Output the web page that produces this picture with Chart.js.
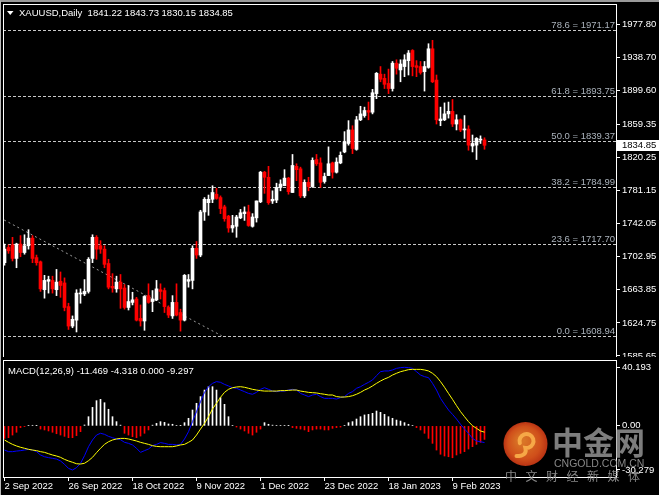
<!DOCTYPE html>
<html>
<head>
<meta charset="utf-8">
<title>XAUUSD Daily</title>
<script src="https://cdn.jsdelivr.net/npm/chart.js@4.4.1/dist/chart.umd.min.js"></script>
<style>
  html, body { margin: 0; padding: 0; background: #000; }
  #wrap { position: relative; width: 659px; height: 495px; overflow: hidden; background: #000; }
  #price { position: absolute; left: 0; top: 0; }
  #macd { position: absolute; left: 0; top: 357px; }
  #edge { position: absolute; left: 0; top: 0; width: 658px; height: 494px;
          border-top: 2px solid #9a9a9a; border-left: 1px solid #b8b8b8; pointer-events: none; }
</style>
</head>
<body>
<div id="wrap">
  <canvas id="price" width="659" height="357"></canvas>
  <canvas id="macd" width="659" height="138"></canvas>
  <div id="edge"></div>
</div>
<script>
const FONT = "'Liberation Sans', Arial, sans-serif";
Chart.defaults.font.family = FONT;
Chart.defaults.font.size = 9.5;
Chart.defaults.color = "#ffffff";

const symbol = "XAUUSD,Daily";
const dateLabels = ["2 Sep 2022", "26 Sep 2022", "18 Oct 2022", "9 Nov 2022", "1 Dec 2022", "23 Dec 2022", "18 Jan 2023", "9 Feb 2023"];
const dateIdx = [0, 16, 32, 48, 64, 80, 96, 112];

// daily candles, 2 Sep 2022 .. 21 Feb 2023
const open = [
  1696,1714,1717,1701,1718,1708,1716,1725,1702,1697,
  1664,1674,1675,1664,1674,1672,1644,1621,1628,1659,
  1659,1662,1701,1726,1716,1712,1695,1668,1665,1673,
  1666,1643,1649,1653,1630,1627,1657,1650,1652,1664,
  1663,1643,1633,1649,1637,1628,1674,1675,1713,1705,
  1756,1767,1771,1777,1773,1762,1751,1737,1739,1749,
  1754,1756,1739,1749,1768,1803,1797,1769,1770,1785,
  1787,1796,1779,1810,1807,1775,1791,1786,1818,1814,
  1792,1799,1814,1803,1814,1827,1837,1853,1830,1865,
  1870,1876,1874,1896,1919,1914,1908,1902,1932,1924,
  1928,1935,1947,1929,1928,1922,1927,1949,1912,1864,
  1865,1872,1875,1860,1865,1853,1854,1834,1835,1841,
  1841.22];
const high = [
  1718,1717,1726,1719,1728,1729,1735,1728,1705,1698,
  1681,1680,1680,1688,1685,1678,1648,1633,1664,1665,
  1676,1702,1729,1728,1722,1716,1700,1683,1680,1682,
  1670,1669,1661,1655,1646,1657,1671,1663,1675,1671,
  1666,1645,1657,1671,1641,1682,1682,1716,1721,1758,
  1773,1776,1787,1784,1775,1764,1752,1752,1752,1759,
  1762,1764,1754,1769,1804,1804,1810,1781,1790,1794,
  1806,1797,1824,1813,1809,1794,1797,1820,1824,1820,
  1802,1833,1815,1820,1827,1851,1864,1858,1869,1881,
  1880,1886,1901,1921,1928,1919,1925,1934,1936,1936,
  1942,1947,1948,1935,1934,1934,1955,1959,1918,1880,
  1885,1886,1889,1871,1866,1870,1858,1847,1844,1846,
  1843.73];
const low = [
  1693,1707,1698,1690,1703,1706,1712,1696,1693,1662,
  1654,1660,1660,1657,1655,1639,1617,1619,1614,1648,
  1657,1660,1696,1700,1707,1690,1665,1661,1661,1642,
  1641,1640,1646,1627,1621,1616,1648,1638,1651,1653,
  1637,1631,1630,1633,1615,1627,1667,1665,1701,1703,
  1746,1752,1767,1771,1754,1745,1732,1732,1726,1748,
  1746,1739,1738,1744,1767,1778,1765,1766,1767,1781,
  1787,1777,1779,1793,1773,1773,1781,1785,1811,1785,
  1790,1799,1796,1802,1813,1826,1835,1825,1829,1864,
  1868,1865,1872,1890,1910,1902,1896,1899,1919,1910,
  1916,1918,1917,1916,1919,1899,1926,1909,1860,1858,
  1864,1867,1857,1853,1851,1843,1829,1827,1818,1837,
  1830.15];
const close = [
  1712,1710,1701,1718,1708,1716,1725,1701,1696,1665,
  1675,1676,1665,1673,1669,1643,1621,1629,1660,1660,
  1662,1700,1726,1712,1712,1694,1667,1666,1673,1665,
  1643,1650,1652,1628,1627,1656,1649,1653,1665,1662,
  1644,1634,1649,1634,1628,1681,1676,1713,1705,1756,
  1771,1771,1779,1772,1760,1748,1737,1740,1750,1755,
  1756,1740,1750,1769,1803,1797,1767,1771,1785,1789,
  1796,1780,1811,1806,1775,1791,1786,1817,1813,1791,
  1798,1813,1803,1815,1823,1839,1853,1831,1865,1872,
  1876,1874,1897,1920,1913,1907,1902,1932,1926,1931,
  1936,1944,1928,1927,1921,1928,1949,1910,1865,1866,
  1872,1875,1860,1865,1853,1854,1835,1837,1843,1842,
  1834.85];

const priceTicks = [1977.80, 1938.70, 1899.60, 1859.35, 1820.25, 1781.15, 1742.05, 1702.95, 1663.85, 1624.75, 1585.65];
const fibLevels = ["78.6", "61.8", "50.0", "38.2", "23.6", "0.0"];
const fibPrices = [1971.17, 1893.75, 1839.37, 1784.99, 1717.70, 1608.94];
// trend line end points: bar index, price
const trendIdx = [-0.1, 54.3];
const trendPrice = [1746.5, 1609.5];

const macdMain = [
  -16.6,-17.7,-17.7,-17.3,-17.0,-16.6,-16.1,-16.6,-17.7,-20.0,
  -21.2,-21.8,-22.3,-22.8,-24.1,-26.4,-29.2,-30.3,-28.7,-25.7,
  -20.5,-14.3,-9.7,-6.3,-5.1,-5.8,-7.2,-8.1,-9.0,-9.5,
  -11.3,-12.0,-13.1,-15.4,-18.2,-17.0,-15.9,-13.6,-12.7,-11.5,
  -12.0,-12.7,-12.7,-13.1,-12.7,-9.0,-4.0,2.9,9.8,16.6,
  23.0,26.9,29.2,30.4,29.9,28.5,27.4,26.2,25.8,24.6,
  23.5,22.3,21.7,23.0,25.1,26.2,25.1,23.9,23.5,23.9,
  23.9,24.6,25.1,24.6,22.3,21.2,20.1,21.2,21.7,20.1,
  18.9,18.9,18.9,18.4,19.4,20.1,22.3,23.5,25.8,26.9,
  28.5,29.9,31.5,34.5,37.2,37.7,37.7,38.4,39.5,40.0,
  40.2,40.0,39.5,37.2,34.9,33.8,33.1,29.2,24.6,18.9,
  14.8,10.9,7.9,4.7,1.1,-2.2,-5.1,-8.6,-10.4,-10.9,
  -11.469];
const macdSignal = [
  -9.7,-11.3,-12.7,-13.8,-14.7,-15.4,-16.1,-16.6,-17.0,-17.7,
  -18.2,-19.1,-20.0,-20.7,-21.6,-23.0,-24.1,-25.0,-26.0,-26.2,
  -25.7,-23.9,-21.6,-18.4,-15.4,-12.7,-10.9,-9.7,-9.0,-8.6,
  -8.6,-9.0,-9.7,-10.4,-11.3,-12.0,-12.7,-13.6,-14.1,-14.3,
  -14.3,-14.3,-14.3,-13.8,-13.1,-12.7,-11.3,-9.7,-6.3,-2.2,
  1.7,6.3,11.6,15.5,19.6,23.0,25.1,26.2,26.7,26.9,
  26.5,25.8,25.1,24.6,24.2,23.9,23.9,23.9,23.9,24.2,
  24.2,24.4,24.6,24.6,23.9,23.5,23.0,22.8,22.6,22.1,
  21.7,21.2,21.2,20.1,19.8,19.8,20.1,20.7,21.7,23.0,
  24.6,25.8,27.4,29.2,30.8,32.2,33.3,34.9,36.1,37.2,
  37.9,38.6,38.8,38.8,38.8,38.4,37.7,36.1,33.8,30.4,
  26.5,22.3,18.2,13.9,9.8,6.3,2.9,0.1,-1.7,-3.5,
  -4.318];
const macdHist = [
  -8.6,-8.1,-6.3,-4.4,-1.2,-0.5,0.3,0.4,0.2,-2.2,
  -2.8,-3.5,-4.4,-5.4,-6.3,-7.2,-8.1,-8.1,-6.7,-4.0,
  0.6,6.3,12.7,17.3,18.2,15.9,11.4,6.3,2.9,0.5,
  -5.1,-6.3,-7.4,-8.1,-7.0,-5.1,-2.8,0.5,1.7,2.9,
  2.4,1.3,1.1,0.3,0.2,2.2,5.2,10.9,15.5,20.1,
  24.6,26.9,26.9,24.6,19.4,14.8,6.3,0.3,-0.8,-2.2,
  -3.5,-5.1,-6.3,-4.4,-2.2,2.2,1.1,0.5,0.3,0.3,
  0.3,0.2,-1.2,-1.7,-2.2,-2.8,-4.0,-2.8,-2.2,-2.2,
  -2.8,-2.8,-1.7,-1.2,-0.8,0.3,2.2,2.9,4.7,6.3,
  7.5,7.9,8.6,10.2,9.3,7.9,6.3,5.2,4.0,3.3,
  2.2,1.1,0.3,-1.2,-2.8,-5.1,-8.6,-12.0,-16.6,-19.5,
  -20.7,-21.2,-21.9,-20.0,-18.9,-17.7,-15.9,-14.3,-12.7,-11.3,
  -9.297];
const macdTicks = [40.193, 0, -30.279];

const n = close.length;
const bull = "#ffffff", bear = "#ff0000";
const candleColor = close.map((c, i) => (c >= open[i] ? bull : bear));

// 4 px per bar, first bar centred 1.5 px inside the frame
const xMin = -0.375, xMax = 152.875;

function frame(chart) {
  const { ctx, chartArea: a } = chart;
  ctx.save();
  ctx.strokeStyle = "#ffffff";
  ctx.lineWidth = 1;
  ctx.strokeRect(a.left + 0.5, a.top + 0.5, a.right - a.left, a.bottom - a.top);
  ctx.restore();
}

const priceDecor = {
  id: "priceDecor",
  beforeDatasetsDraw(chart) {
    const { ctx, chartArea: a, scales: { y } } = chart;
    ctx.save();
    ctx.strokeStyle = "#c8c8c8";
    ctx.lineWidth = 1;
    ctx.setLineDash([3, 2]);
    fibPrices.forEach((p) => {
      const py = Math.round(y.getPixelForValue(p)) + 0.5;
      ctx.beginPath();
      ctx.moveTo(a.left, py);
      ctx.lineTo(a.right, py);
      ctx.stroke();
    });
    ctx.setLineDash([]);
    ctx.fillStyle = "#aab2bb";
    ctx.font = "9.5px " + FONT;
    ctx.textAlign = "right";
    ctx.textBaseline = "alphabetic";
    fibPrices.forEach((p, k) => {
      const py = Math.round(y.getPixelForValue(p));
      ctx.fillText(fibLevels[k] + " = " + p.toFixed(2), a.right - 1, py - 2);
    });
    ctx.restore();
  },
  afterDraw(chart) {
    const { ctx, chartArea: a, scales: { y } } = chart;
    frame(chart);
    ctx.save();
    // separator under the price panel
    ctx.fillStyle = "#ffffff";
    ctx.fillRect(0, a.bottom, chart.width, 1);
    // header
    ctx.beginPath();
    ctx.moveTo(7, 11);
    ctx.lineTo(13.5, 11);
    ctx.lineTo(10.25, 15);
    ctx.closePath();
    ctx.fill();
    ctx.font = "9.5px " + FONT;
    ctx.textAlign = "left";
    ctx.textBaseline = "alphabetic";
    const ohlc = [open, high, low, close].map((s) => s[n - 1].toFixed(2)).join(" ");
    ctx.fillText(symbol + "  " + ohlc, 19, 15.5);
    // last price marker
    const py = y.getPixelForValue(close[n - 1]);
    ctx.fillRect(a.right + 1, Math.round(py) - 5, chart.width - a.right - 1, 11);
    ctx.fillStyle = "#000000";
    ctx.textBaseline = "middle";
    ctx.fillText(close[n - 1].toFixed(2), a.right + 6, Math.round(py) + 0.5);
    ctx.restore();
  }
};

const macdDecor = {
  id: "macdDecor",
  afterDraw(chart) {
    const { ctx } = chart;
    frame(chart);
    ctx.save();
    ctx.fillStyle = "#ffffff";
    ctx.font = "9.5px " + FONT;
    ctx.textAlign = "left";
    ctx.textBaseline = "alphabetic";
    const vals = [macdMain[n - 1].toFixed(3), macdSignal[n - 1].toFixed(3), (0).toFixed(3), macdHist[n - 1].toFixed(3)];
    ctx.fillText("MACD(12,26,9) " + vals.join(" "), 8, 16.5);

    // watermark
    ctx.globalAlpha = 0.88;
    const cx = 525.5, cy = 87, r = 22;
    const g = ctx.createRadialGradient(cx - 4, cy - 4, 3, cx, cy, r);
    g.addColorStop(0, "#f7862c");
    g.addColorStop(0.7, "#ec5a1e");
    g.addColorStop(1, "#d23a16");
    ctx.fillStyle = g;
    ctx.beginPath();
    ctx.arc(cx, cy, r, 0, Math.PI * 2);
    ctx.fill();
    ctx.strokeStyle = "#fbb24c";
    ctx.lineWidth = 4;
    ctx.lineCap = "round";
    ctx.beginPath();
    ctx.arc(cx + 1, cy - 3, 7, Math.PI * 0.9, Math.PI * 2.55);
    ctx.quadraticCurveTo(cx + 2, cy + 12, cx - 9, cy + 12);
    ctx.stroke();
    ctx.fillStyle = "#8e8e8e";
    ctx.font = "bold 31px 'Noto Sans CJK SC', sans-serif";
    ctx.textBaseline = "middle";
    ctx.fillText("中金网", 552, 85);
    ctx.fillStyle = "#9a9a9a";
    ctx.font = "10.5px " + FONT;
    ctx.fillText("CNGOLD.COM.CN", 554, 107);
    ctx.font = "12px 'Noto Sans CJK SC', sans-serif";
    "中文财经新媒体".split("").forEach((ch, k) => ctx.fillText(ch, 505 + k * 20.5, 119));
    ctx.restore();
  }
};

new Chart(document.getElementById("price"), {
  type: "bar",
  data: {
    datasets: [
      {
        label: "body",
        data: open.map((o, i) => ({ x: i, y: [o, close[i]] })),
        backgroundColor: candleColor,
        barThickness: 3,
        minBarLength: 1,
        grouped: false,
        order: 0
      },
      {
        label: "wick",
        data: low.map((l, i) => ({ x: i, y: [l, high[i]] })),
        backgroundColor: candleColor,
        barThickness: 1,
        grouped: false,
        order: 1
      },
      {
        type: "line",
        label: "trend",
        data: trendIdx.map((x, k) => ({ x: x, y: trendPrice[k] })),
        borderColor: "#9c9c9c",
        borderWidth: 1,
        borderDash: [2, 3],
        pointRadius: 0,
        order: 2
      }
    ]
  },
  options: {
    responsive: false,
    animation: false,
    events: [],
    layout: { padding: { left: 3, top: 4, right: 0, bottom: 0 } },
    plugins: { legend: { display: false }, tooltip: { enabled: false } },
    scales: {
      x: { type: "linear", min: xMin, max: xMax, offset: false, display: false },
      y: {
        type: "linear",
        position: "right",
        min: 1584.4,
        max: 2002.0,
        afterBuildTicks: (s) => { s.ticks = priceTicks.map((v) => ({ value: v })); },
        afterFit: (s) => { s.width = 43; s.paddingTop = 0; s.paddingBottom = 0; },
        ticks: { callback: (v) => v.toFixed(2), padding: 2, color: "#ffffff", autoSkip: false },
        grid: { drawOnChartArea: false, drawTicks: true, tickLength: 4, color: "#ffffff" },
        border: { display: false }
      }
    }
  },
  plugins: [priceDecor]
});

new Chart(document.getElementById("macd"), {
  type: "bar",
  data: {
    datasets: [
      {
        type: "line",
        label: "signal",
        data: macdSignal.map((v, i) => ({ x: i, y: v })),
        borderColor: "#ffff00",
        borderWidth: 1,
        pointRadius: 0,
        order: 0
      },
      {
        type: "line",
        label: "macd",
        data: macdMain.map((v, i) => ({ x: i, y: v })),
        borderColor: "#0000ff",
        borderWidth: 1,
        pointRadius: 0,
        order: 1
      },
      {
        label: "hist",
        data: macdHist.map((v, i) => ({ x: i, y: v })),
        backgroundColor: macdHist.map((v) => (v >= 0 ? "#ffffff" : "#ff0000")),
        barThickness: 1,
        grouped: false,
        order: 2
      }
    ]
  },
  options: {
    responsive: false,
    animation: false,
    events: [],
    layout: { padding: { left: 3, top: 3, right: 0, bottom: 0 } },
    plugins: { legend: { display: false }, tooltip: { enabled: false } },
    scales: {
      x: {
        type: "linear",
        position: "bottom",
        min: xMin,
        max: xMax,
        offset: false,
        afterBuildTicks: (s) => { s.ticks = dateIdx.map((v) => ({ value: v })); },
        afterFit: (s) => { s.height = 18; s.paddingLeft = 0; s.paddingRight = 0; },
        ticks: {
          callback: (v) => dateLabels[dateIdx.indexOf(v)],
          align: "start",
          maxRotation: 0,
          minRotation: 0,
          autoSkip: false,
          padding: 0,
          color: "#ffffff"
        },
        grid: { offset: false, drawOnChartArea: false, drawTicks: true, tickLength: 4, color: "#ffffff" },
        border: { display: false }
      },
      y: {
        type: "linear",
        position: "right",
        min: -35.11,
        max: 45.23,
        afterBuildTicks: (s) => { s.ticks = macdTicks.map((v) => ({ value: v })); },
        afterFit: (s) => { s.width = 43; s.paddingTop = 0; s.paddingBottom = 0; },
        ticks: { callback: (v) => (v === 0 ? "0.00" : v.toFixed(3)), padding: 2, color: "#ffffff", autoSkip: false },
        grid: { drawOnChartArea: false, drawTicks: true, tickLength: 4, color: "#ffffff" },
        border: { display: false }
      }
    }
  },
  plugins: [macdDecor]
});
</script>
</body>
</html>
